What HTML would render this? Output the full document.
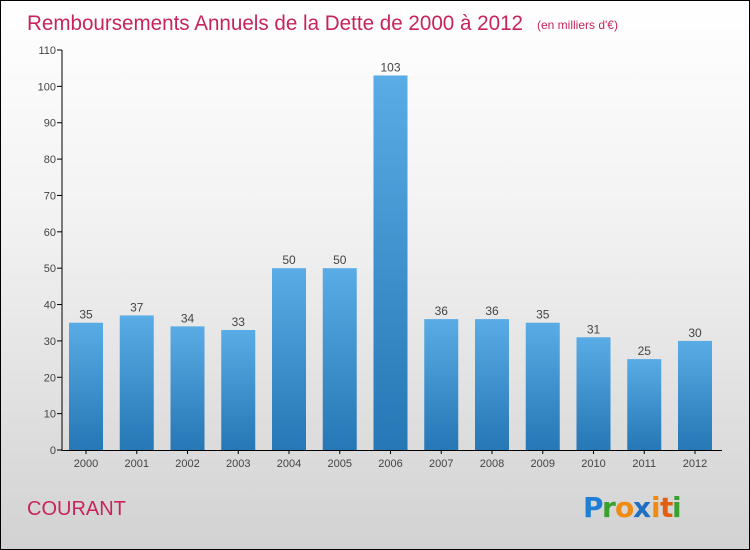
<!DOCTYPE html>
<html><head><meta charset="utf-8"><style>
body{margin:0}
#c{position:relative;width:748px;height:548px;border:1px solid #000;background:linear-gradient(#fff,#f2f2f2 40%,#d2d2d2);font-family:"Liberation Sans",sans-serif;overflow:hidden}
</style></head><body>
<div id="c">
<svg width="748" height="548" id="s">
<defs><linearGradient id="g" x1="0" y1="0" x2="0" y2="1"><stop offset="0" stop-color="#5aace6"/><stop offset="1" stop-color="#2577b5"/></linearGradient></defs>
<text x="26" y="29" font-size="21" fill="#c8245c" textLength="496" lengthAdjust="spacingAndGlyphs">Remboursements Annuels de la Dette de 2000 à 2012</text>
<text x="536" y="28" font-size="12" fill="#c8245c">(en milliers d'€)</text>
<text x="26" y="514" font-size="20" fill="#c8245c">COURANT</text>
<g font-size="28" font-weight="bold" font-family="'DejaVu Sans',sans-serif">
<text x="582" y="516" fill="#1f7fd4">P</text><text x="601" y="516" fill="#3aa02e">r</text><text x="614" y="516" fill="#f08a10">o</text><text x="632" y="516" fill="#1f6fc4">x</text><text x="650" y="516" fill="#f08a10">i</text><text x="659" y="516" fill="#e06010">t</text><text x="671" y="516" fill="#3aa02e">i</text>
</g>
<g id="plot"></g>
</svg>
</div>
<script>
const categories=["2000","2001","2002","2003","2004","2005","2006","2007","2008","2009","2010","2011","2012"];
const values=[35,37,34,33,50,50,103,36,36,35,31,25,30];
const yTicks=[0,10,20,30,40,50,60,70,80,90,100,110];
const NS="http://www.w3.org/2000/svg";
const g=document.getElementById('plot');
const y=v=>449-v*(400/110);
const x=i=>85+i*50.75;
function mk(t,a,p){const e=document.createElementNS(NS,t);for(const k in a)e.setAttribute(k,a[k]);(p||g).appendChild(e);return e;}
yTicks.forEach(t=>{
 const l=mk('line',{x1:56,x2:61,y1:y(t),y2:y(t),stroke:'#000'});
 
 
 const tx=mk('text',{x:55,y:y(t)+4,'text-anchor':'end','font-size':11,fill:'#444'});
 tx.textContent=t;
 
 
});
values.forEach((v,i)=>{
 const r=mk('rect',{x:x(i)-17,y:y(v),width:34,height:y(0)-y(v),fill:'url(#g)'});
 
 
 const tv=mk('text',{x:x(i),y:y(v)-4,'text-anchor':'middle','font-size':12,fill:'#444'});
 tv.textContent=v;
 
 
 const tk=mk('line',{x1:x(i),x2:x(i),y1:449,y2:453,stroke:'#000'});
 
 
 const tc=mk('text',{x:x(i),y:466,'text-anchor':'middle','font-size':11,fill:'#444'});
 tc.textContent=categories[i];
 
 
});
const ya=mk('line',{x1:61,x2:61,y1:49,y2:450,stroke:'#000'});


const xa=mk('line',{x1:61,x2:721,y1:449.5,y2:449.5,stroke:'#000'});


</script>
</body></html>
